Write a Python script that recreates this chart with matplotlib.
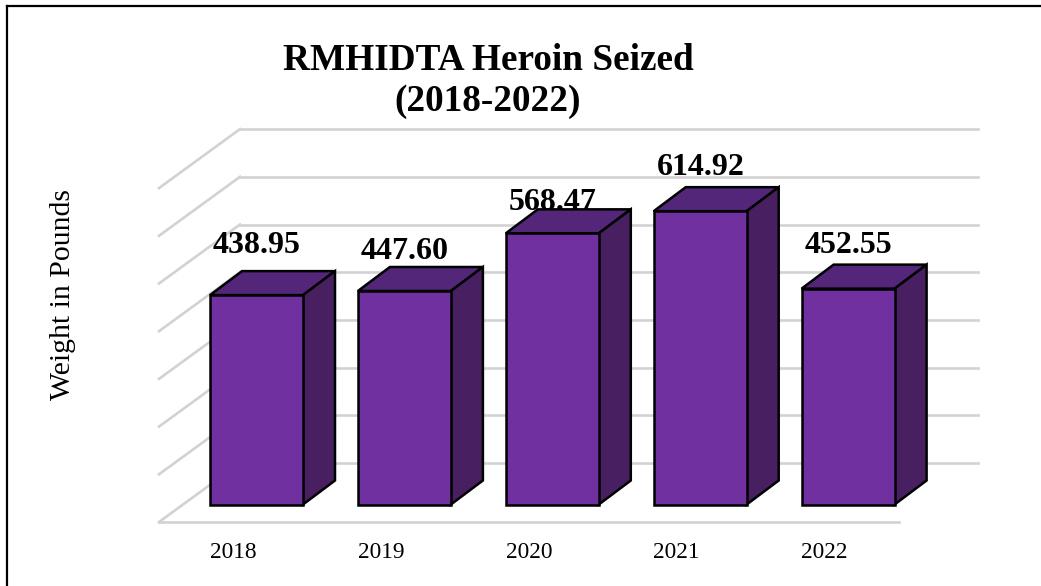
from matplotlib import pyplot as plt
from matplotlib.patches import Polygon

plt.rcParams['font.family'] = ['Liberation Serif', 'DejaVu Serif']

# data
years = ['2018', '2019', '2020', '2021', '2022']
weights = [438.95, 447.60, 568.47, 614.92, 452.55]
grid_values = [100, 200, 300, 400, 500, 600, 700]

# how far each value label sits above its bar, in pixels
label_lift = [50, 39, 31, 44, 43]

W, H = 1041, 586
BAR_W = 93
STEP = 147.9
X0 = 256.5    # pixel x of first bar centre
Y0 = 504.5    # pixel y of value 0 on bar front
PX_PER_UNIT = 0.477
DEPTH_X, DEPTH_Y = 32, 24   # bar depth

fig = plt.figure(figsize=(W / 100, H / 100), dpi=100)
ax = fig.add_axes([0, 0, 1, 1])
# axes scales: category index on x, pounds on y
ax.set_xlim(-X0 / STEP, (W - X0) / STEP)
ax.set_ylim(-(H - Y0) / PX_PER_UNIT, Y0 / PX_PER_UNIT)
ax.axis('off')


def dx(p):
    return p / STEP


def dy(p):
    return p / PX_PER_UNIT


GRID = '#d2d2d2'
GRID_LW = 1.9
# wall and floor, offsets relative to the bar front plane
floor_l, floor_r = dx(159 - X0), dx(899 - X0)
wall_l, wall_r = dx(240 - X0), dx(978 - X0)
front_y = dy(504.5 - 522)
back_y = dy(59)
ax.plot([floor_l, floor_r], [front_y, front_y], color=GRID, lw=GRID_LW, zorder=1)
ax.plot([floor_l, wall_l], [front_y, front_y + back_y], color=GRID, lw=GRID_LW, zorder=1)
ax.plot([wall_l, wall_r], [front_y + back_y, front_y + back_y], color=GRID, lw=GRID_LW, zorder=1)
for g in grid_values:
    y = front_y + g
    ax.plot([floor_l, wall_l], [y, y + back_y], color=GRID, lw=GRID_LW, zorder=1)
    ax.plot([wall_l, wall_r], [y + back_y, y + back_y], color=GRID, lw=GRID_LW, zorder=1)

# value labels go under the bars, 568.47 is partly hidden in the original
for i, v in enumerate(weights):
    ax.text(i + dx(0.5), v + dy(label_lift[i]), f'{v:.2f}', ha='center', va='center',
            fontsize=23, fontweight='bold', color='black', zorder=2)

# 3d bars
w = dx(BAR_W) / 2
ddx, ddy = dx(DEPTH_X), dy(DEPTH_Y)
for i, v in enumerate(weights):
    l, r = i - w, i + w
    ax.add_patch(Polygon([(l, 0), (r, 0), (r, v), (l, v)], fc='#7030a0', ec='black', lw=1.8, zorder=4))
    ax.add_patch(Polygon([(l, v), (r, v), (r + ddx, v + ddy), (l + ddx, v + ddy)],
                         fc='#54267a', ec='black', lw=1.8, zorder=3))
    ax.add_patch(Polygon([(r, 0), (r + ddx, ddy), (r + ddx, v + ddy), (r, v)],
                         fc='#482062', ec='black', lw=1.8, zorder=3))
    ax.text(i - dx(23.5), dy(Y0 - 552), years[i], ha='center', va='center', fontsize=16.8, color='black')

ax.text(dx(488 - X0), dy(Y0 - 81), 'RMHIDTA Heroin Seized\n(2018-2022)', ha='center', va='center',
        fontsize=26.8, fontweight='bold', color='black', linespacing=1.23)
ax.text(dx(62.5 - X0), dy(Y0 - 295), 'Weight in Pounds', rotation=90, ha='center', va='center',
        fontsize=21.4, color='black')

# frame only shows on the top and left of the picture
ax.plot([dx(7 - X0), dx(7 - X0)], [dy(Y0 - H), dy(Y0 - 5.5)], color='black', lw=1.6, zorder=5)
ax.plot([dx(7 - X0), dx(W - X0)], [dy(Y0 - 5.5), dy(Y0 - 5.5)], color='black', lw=1.6, zorder=5)

fig.savefig('out.png', dpi=100)
